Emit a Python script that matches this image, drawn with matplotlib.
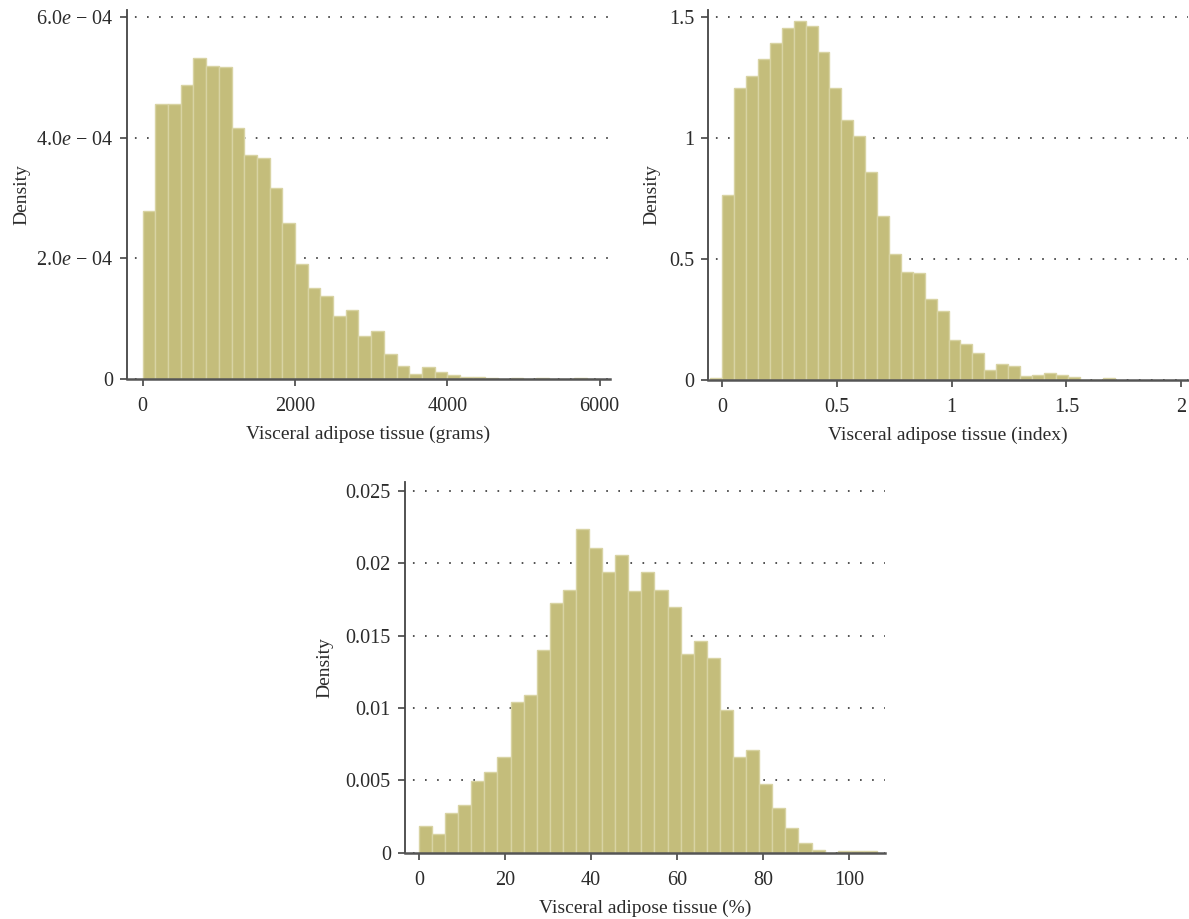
import numpy as np
import matplotlib
matplotlib.use("Agg")
import matplotlib.pyplot as plt

# ── Data (densities) ─────────────────────────────────────────────────────────
GRAMS_START = 0.0
GRAMS_WIDTH = 166.7
grams_density = np.array([
    2.79, 4.56, 4.56, 4.88, 5.33, 5.19, 5.18, 4.16, 3.72, 3.67, 3.17, 2.59,
    1.91, 1.51, 1.38, 1.04, 1.14, 0.71, 0.80, 0.41, 0.215, 0.083, 0.20, 0.116,
    0.066, 0.04, 0.04, 0.02, 0.005, 0.01, 0.005, 0.01, 0.003, 0.005, 0.01, 0.0,
]) * 1e-4

INDEX_START = -0.0519
INDEX_WIDTH = 0.0519
index_density = np.array([
    0.007, 0.764, 1.207, 1.257, 1.327, 1.393, 1.457, 1.483, 1.464, 1.357,
    1.207, 1.075, 1.008, 0.859, 0.677, 0.519, 0.445, 0.441, 0.333, 0.283,
    0.163, 0.147, 0.109, 0.039, 0.064, 0.056, 0.014, 0.018, 0.027, 0.018,
    0.012, 0.0, 0.0, 0.006,
])

PCT_START = 0.0
PCT_WIDTH = 3.043
pct_density = np.array([
    0.00187, 0.00131, 0.00277, 0.00332, 0.00493, 0.00556, 0.00664, 0.01044,
    0.01092, 0.01403, 0.01728, 0.01818, 0.02240, 0.02108, 0.01942, 0.02060,
    0.01811, 0.01937, 0.01814, 0.01696, 0.01371, 0.01461, 0.01344, 0.00984,
    0.00664, 0.00708, 0.00473, 0.00307, 0.00169, 0.00065, 0.00017, 0.0,
    0.0001, 0.0001, 0.0001,
])

grams_xticks = [0, 2000, 4000, 6000]
grams_yticks = [0, 2e-4, 4e-4, 6e-4]
grams_ylabels = ["0", "2.0$e$ \u2212 04", "4.0$e$ \u2212 04", "6.0$e$ \u2212 04"]

index_xticks = [0, 0.5, 1, 1.5, 2]
index_xlabels = ["0", "0.5", "1", "1.5", "2"]
index_yticks = [0, 0.5, 1, 1.5]
index_ylabels = ["0", "0.5", "1", "1.5"]

pct_xticks = [0, 20, 40, 60, 80, 100]
pct_yticks = [0, 0.005, 0.01, 0.015, 0.02, 0.025]
pct_ylabels = ["0", "0.005", "0.01", "0.015", "0.02", "0.025"]

# ── Style ─────────────────────────────────────────────────────────────────────
plt.rcParams["font.family"] = ["Liberation Serif", "DejaVu Serif"]
plt.rcParams["mathtext.fontset"] = "custom"
plt.rcParams["mathtext.rm"] = "Liberation Serif"
plt.rcParams["mathtext.it"] = "Liberation Serif:italic"
plt.rcParams["lines.scale_dashes"] = False

BAR_FACE = "#c4bd7b"
BAR_EDGE = "#d8d3a3"
AXIS_COL = "#444444"
TEXT_COL = "#2b2b2b"


def draw_hist(ax, start, width, dens, xlabel, ylab_x):
    edges = start + width * np.arange(len(dens))
    ax.bar(edges, dens, width=width, align="edge", color=BAR_FACE,
           edgecolor=BAR_EDGE, linewidth=1.0, zorder=2)
    ax.set_axisbelow(True)
    ax.yaxis.grid(True, color="#333333", linestyle=(3, (1.2, 7.5)),
                  linewidth=1.2)
    for s in ("top", "right"):
        ax.spines[s].set_visible(False)
    ax.spines["left"].set_color(AXIS_COL)
    ax.spines["left"].set_linewidth(1.3)
    ax.spines["bottom"].set_color("#555555")
    ax.spines["bottom"].set_linewidth(1.8)
    ax.tick_params(axis="both", direction="out", length=5, width=1.2,
                   color=AXIS_COL, labelcolor=TEXT_COL, labelsize=14.5)
    ax.tick_params(axis="x", pad=8)
    ax.tick_params(axis="y", pad=5)
    ax.set_xlabel(xlabel, fontsize=14, color=TEXT_COL, labelpad=7)
    ax.set_ylabel("Density", fontsize=14, color=TEXT_COL)
    ax.yaxis.set_label_coords(ylab_x, 0.5)


fig = plt.figure(figsize=(11.89, 9.19), dpi=100, facecolor="white")

# top-left: grams
ax1 = fig.add_axes([0.1068, 0.5876, 0.4062, 0.4015])
draw_hist(ax1, GRAMS_START, GRAMS_WIDTH, grams_density,
          "Visceral adipose tissue (grams)", -0.201)
ax1.set_xlim(-206, 6137)
ax1.set_ylim(0, 6.12e-4)
ax1.set_xticks(grams_xticks)
ax1.set_xticklabels([str(t) for t in grams_xticks])
ax1.set_yticks(grams_yticks)
ax1.set_yticklabels(grams_ylabels)

# top-right: index
ax2 = fig.add_axes([0.5955, 0.5868, 0.4037, 0.4024])
draw_hist(ax2, INDEX_START, INDEX_WIDTH, index_density,
          "Visceral adipose tissue (index)", -0.100)
ax2.set_xlim(-0.062, 2.03)
ax2.set_ylim(0, 1.53)
ax2.set_xticks(index_xticks)
ax2.set_xticklabels(index_xlabels)
ax2.set_yticks(index_yticks)
ax2.set_yticklabels(index_ylabels)

# bottom: percent
ax3 = fig.add_axes([0.3404, 0.0721, 0.4040, 0.4037])
draw_hist(ax3, PCT_START, PCT_WIDTH, pct_density,
          "Visceral adipose tissue (%)", -0.149)
ax3.set_xlim(-3.3, 108.4)
ax3.set_ylim(0, 0.02564)
ax3.set_xticks(pct_xticks)
ax3.set_xticklabels([str(t) for t in pct_xticks])
ax3.set_yticks(pct_yticks)
ax3.set_yticklabels(pct_ylabels)

fig.savefig("out.png", dpi=100, facecolor="white")
